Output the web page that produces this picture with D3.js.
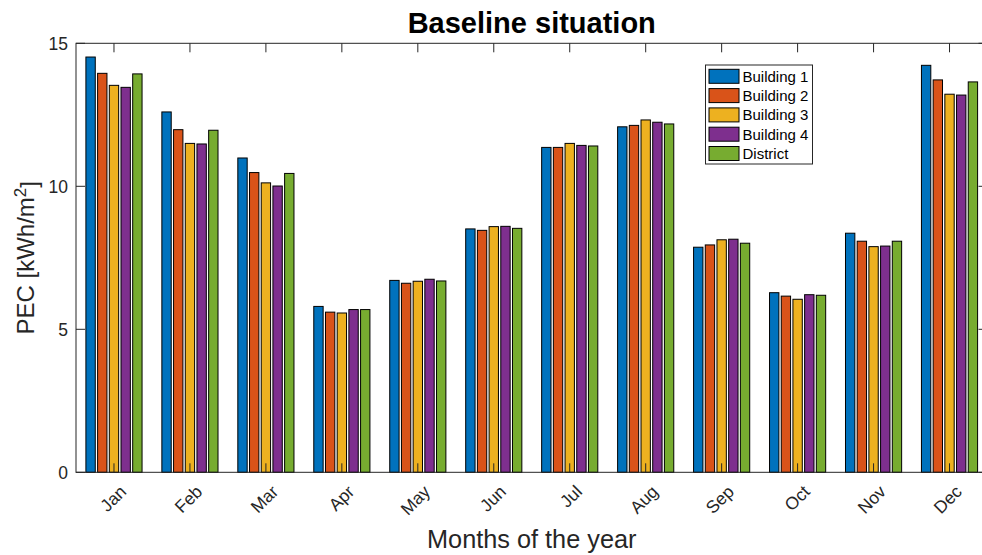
<!DOCTYPE html>
<html>
<head>
<meta charset="utf-8">
<script src="https://cdn.jsdelivr.net/npm/d3@7"></script>
<style>
  body { margin: 0; background: #fff; }
  text { font-family: "Liberation Sans", Arial, Helvetica, sans-serif; }
</style>
</head>
<body>
<script>
var months = ['Jan', 'Feb', 'Mar', 'Apr', 'May', 'Jun', 'Jul', 'Aug', 'Sep', 'Oct', 'Nov', 'Dec'];
var seriesNames = ['Building 1', 'Building 2', 'Building 3', 'Building 4', 'District'];
var building1 = [14.52, 12.60, 10.99, 5.80, 6.71, 8.51, 11.36, 12.08, 7.87, 6.28, 8.36, 14.23];
var building2 = [13.95, 11.98, 10.48, 5.60, 6.61, 8.46, 11.36, 12.13, 7.95, 6.16, 8.08, 13.72];
var building3 = [13.53, 11.50, 10.12, 5.57, 6.68, 8.59, 11.50, 12.32, 8.13, 6.05, 7.89, 13.22];
var building4 = [13.46, 11.48, 10.01, 5.69, 6.75, 8.60, 11.43, 12.24, 8.15, 6.21, 7.91, 13.19];
var district  = [13.93, 11.96, 10.45, 5.69, 6.69, 8.53, 11.41, 12.18, 8.01, 6.19, 8.08, 13.65];
var yTicks = [0, 5, 10, 15];
var colors = ['#0072BD', '#D95319', '#EDB120', '#7E2F8E', '#77AC30'];

var WIDTH = 982;
var HEIGHT = 555;
var LEFT = 76;
var RIGHT = 987.5;
var TOP = 43.3;
var BOTTOM = 472.3;
var TICK = 9;
var AXIS_COLOR = '#262626';

var series = [building1, building2, building3, building4, district];

var svg = d3.select('body').append('svg')
    .attr('width', WIDTH)
    .attr('height', HEIGHT);

var x = d3.scaleLinear().domain([0.5, 12.5]).range([LEFT, RIGHT]);
var y = d3.scaleLinear().domain([0, 15]).range([BOTTOM, TOP]);
var xSub = d3.scaleBand().domain(d3.range(seriesNames.length))
    .range([-0.385, 0.385]).paddingInner(0.2).paddingOuter(0.1);

var unit = x(1) - x(0);

// bars
series.forEach(function(values, s){
    svg.append('g').selectAll('rect').data(values).enter()
        .append('rect')
        .attr('x', function(d, i){ return x(i + 1) + xSub(s) * unit; })
        .attr('y', function(d){ return y(d); })
        .attr('width', xSub.bandwidth() * unit)
        .attr('height', function(d){ return y(0) - y(d); })
        .attr('fill', colors[s])
        .attr('stroke', '#000')
        .attr('stroke-width', 1);
});

// axes box + ticks
var axes = svg.append('g').attr('stroke', AXIS_COLOR).attr('stroke-width', 1).attr('fill', 'none');
axes.append('rect')
    .attr('x', LEFT).attr('y', TOP)
    .attr('width', RIGHT - LEFT).attr('height', BOTTOM - TOP);

months.forEach(function(m, i){
    var tx = x(i + 1);
    axes.append('line').attr('x1', tx).attr('x2', tx).attr('y1', BOTTOM).attr('y2', BOTTOM - TICK);
    axes.append('line').attr('x1', tx).attr('x2', tx).attr('y1', TOP).attr('y2', TOP + TICK);
});
yTicks.forEach(function(t){
    var ty = y(t);
    axes.append('line').attr('x1', LEFT).attr('x2', LEFT + TICK).attr('y1', ty).attr('y2', ty);
    axes.append('line').attr('x1', RIGHT).attr('x2', RIGHT - TICK).attr('y1', ty).attr('y2', ty);
});

// tick labels
svg.append('g').selectAll('text').data(yTicks).enter()
    .append('text')
    .attr('x', LEFT - 8)
    .attr('y', function(d){ return y(d); })
    .attr('dy', '0.36em')
    .attr('text-anchor', 'end')
    .attr('font-size', 17.5)
    .attr('fill', AXIS_COLOR)
    .text(function(d){ return d; });

svg.append('g').selectAll('text').data(months).enter()
    .append('text')
    .attr('transform', function(d, i){ return 'translate(' + (x(i + 1) + 9) + ',' + (BOTTOM + 16) + ') rotate(-45)'; })
    .attr('dy', '0.36em')
    .attr('text-anchor', 'end')
    .attr('font-size', 17.5)
    .attr('fill', AXIS_COLOR)
    .text(function(d){ return d; });

// title and axis labels
svg.append('text')
    .attr('x', (LEFT + RIGHT) / 2)
    .attr('y', 33)
    .attr('text-anchor', 'middle')
    .attr('font-size', 29)
    .attr('font-weight', 'bold')
    .attr('fill', '#000')
    .text('Baseline situation');

svg.append('text')
    .attr('x', (LEFT + RIGHT) / 2)
    .attr('y', 548)
    .attr('text-anchor', 'middle')
    .attr('font-size', 25.3)
    .attr('fill', AXIS_COLOR)
    .text('Months of the year');

var yLabel = svg.append('text')
    .attr('transform', 'translate(34,' + ((TOP + BOTTOM) / 2) + ') rotate(-90)')
    .attr('text-anchor', 'middle')
    .attr('font-size', 24)
    .attr('fill', AXIS_COLOR);
yLabel.append('tspan').text('PEC [kWh/m');
yLabel.append('tspan').attr('dy', '-0.45em').attr('font-size', 17).text('2');
yLabel.append('tspan').attr('dy', '0.45em').text(']');

// legend
var legend = svg.append('g').attr('transform', 'translate(705.5,65)');
legend.append('rect')
    .attr('width', 107).attr('height', 99)
    .attr('fill', '#fff').attr('stroke', AXIS_COLOR).attr('stroke-width', 1);
seriesNames.forEach(function(name, s){
    var row = legend.append('g').attr('transform', 'translate(0,' + (4.3 + s * 19.3) + ')');
    row.append('rect')
        .attr('x', 3.5).attr('width', 30).attr('height', 14)
        .attr('fill', colors[s]).attr('stroke', '#000').attr('stroke-width', 1);
    row.append('text')
        .attr('x', 37).attr('y', 7).attr('dy', '0.36em')
        .attr('font-size', 15).attr('fill', '#000')
        .text(name);
});
</script>
</body>
</html>
